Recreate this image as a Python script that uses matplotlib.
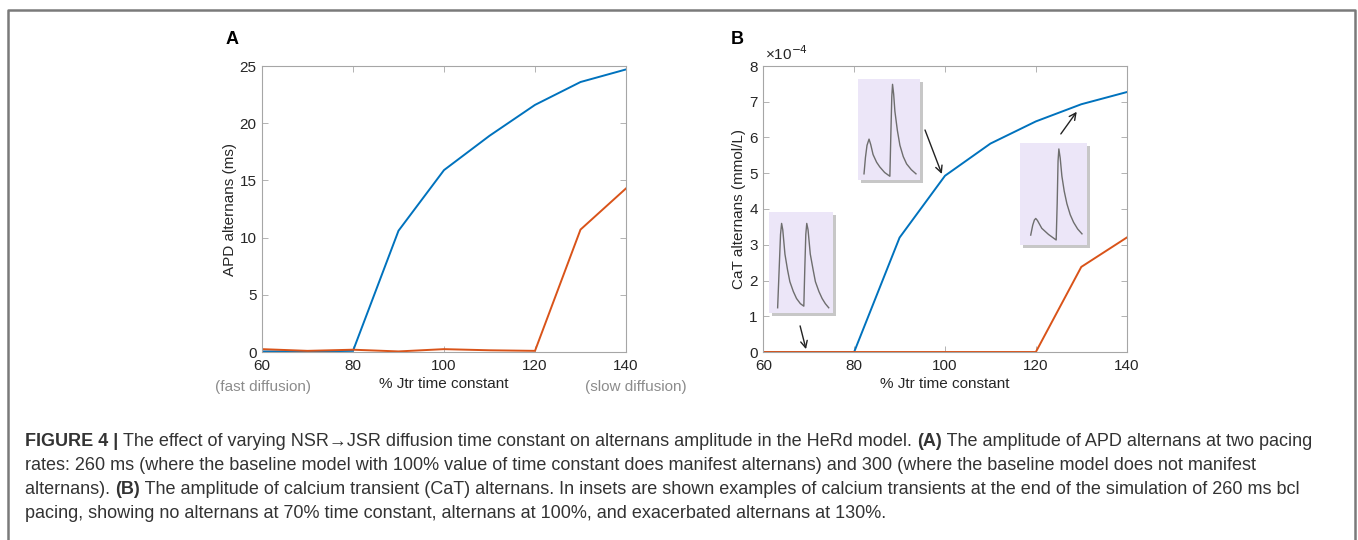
import matplotlib
matplotlib.use("Agg")
import matplotlib.pyplot as plt
from matplotlib.ticker import FuncFormatter
from matplotlib.patches import Rectangle
from matplotlib.lines import Line2D

# data
jtr = [60, 70, 80, 90, 100, 110, 120, 130, 140]
apd_260 = [0.05, 0.05, 0.1, 10.6, 15.9, 18.9, 21.6, 23.6, 24.7]
apd_300 = [0.25, 0.1, 0.2, 0.05, 0.25, 0.15, 0.1, 10.7, 14.3]
cat_260 = [0, 0, 0, 3.2e-4, 4.93e-4, 5.83e-4, 6.45e-4, 6.93e-4, 7.27e-4]
cat_300 = [0, 0, 0, 0, 0, 0, 0, 2.38e-4, 3.2e-4]

# inset traces (normalised inset coords)
trace_70_x = [0.135, 0.16, 0.18, 0.197, 0.215, 0.249, 0.29, 0.326, 0.38, 0.43, 0.49, 0.544,
              0.56, 0.575, 0.59, 0.61, 0.645, 0.69, 0.725, 0.78, 0.83, 0.88, 0.933]
trace_70_y = [0.016, 0.45, 0.8, 0.918, 0.85, 0.59, 0.42, 0.295, 0.19, 0.115, 0.06, 0.033,
              0.45, 0.8, 0.918, 0.85, 0.59, 0.42, 0.295, 0.19, 0.115, 0.06, 0.016]
trace_100_x = [0.097, 0.12, 0.145, 0.178, 0.205, 0.243, 0.3, 0.351, 0.43, 0.514,
               0.53, 0.545, 0.557, 0.575, 0.595, 0.635, 0.676, 0.73, 0.784, 0.86, 0.935]
trace_100_y = [0.026, 0.2, 0.33, 0.397, 0.34, 0.232, 0.15, 0.10, 0.04, 0.0,
               0.45, 0.85, 0.983, 0.88, 0.695, 0.49, 0.331, 0.21, 0.132, 0.07, 0.026]
trace_130_x = [0.16, 0.19, 0.215, 0.235, 0.26, 0.325, 0.425, 0.54,
               0.555, 0.568, 0.58, 0.6, 0.625, 0.66, 0.70, 0.75, 0.80, 0.86, 0.925]
trace_130_y = [0.065, 0.17, 0.225, 0.241, 0.22, 0.137, 0.072, 0.013,
               0.4, 0.85, 0.977, 0.88, 0.69, 0.53, 0.397, 0.28, 0.20, 0.13, 0.078]

blue = "#0072BD"
orange = "#D95319"
tick_col = "#262626"
frame_col = "#a6a6a6"

plt.rcParams['font.family'] = ['Liberation Sans', 'DejaVu Sans']

fig = plt.figure(figsize=(13.58, 5.4), dpi=100)

def style(ax):
    for s in ax.spines.values():
        s.set_color(frame_col)
        s.set_linewidth(0.8)
    ax.tick_params(direction='in', top=True, right=True, length=4, width=0.6,
                   color=frame_col, labelcolor=tick_col, labelsize=11)
    ax.tick_params(axis='x', pad=5)
    ax.tick_params(axis='y', pad=4)
    ax.set_xlim(60, 140)
    ax.set_xticks([60, 80, 100, 120, 140])

# panel A
axA = fig.add_axes([262/1358, 1-352/540, 364/1358, 286/540])
axA.plot(jtr, apd_260, color=blue, lw=1.4)
axA.plot(jtr, apd_300, color=orange, lw=1.4)
style(axA)
axA.set_ylim(0, 25)
axA.set_yticks([0, 5, 10, 15, 20, 25])
axA.set_xlabel("% Jtr time constant", fontsize=11, color=tick_col, labelpad=3)
axA.set_ylabel("APD alternans (ms)", fontsize=11, color=tick_col, labelpad=2)
fig.text(263/1358, 1-387/540, "(fast diffusion)", fontsize=11, color="#8c8c8c", ha='center', va='center')
fig.text(636/1358, 1-387/540, "(slow diffusion)", fontsize=11, color="#8c8c8c", ha='center', va='center')
fig.text(232/1358, 1-39/540, "A", fontsize=13, fontweight='bold', ha='center', va='center')

# panel B
axB = fig.add_axes([763.3/1358, 1-352/540, 363.4/1358, 286/540])
axB.plot(jtr, cat_260, color=blue, lw=1.4)
axB.plot(jtr, cat_300, color=orange, lw=1.4)
style(axB)
axB.set_ylim(0, 8e-4)
axB.set_yticks([i*1e-4 for i in range(9)])
axB.yaxis.set_major_formatter(FuncFormatter(lambda v, p: "%d" % round(v*1e4)))
axB.set_xlabel("% Jtr time constant", fontsize=11, color=tick_col, labelpad=3)
axB.set_ylabel("CaT alternans (mmol/L)", fontsize=11, color=tick_col, labelpad=2)
axB.text(0.005, 1.012, "\u00d710$^{-4}$", transform=axB.transAxes, fontsize=11,
         color=tick_col, ha='left', va='bottom')
fig.text(737/1358, 1-39/540, "B", fontsize=13, fontweight='bold', ha='center', va='center')

# insets
insets = [
    ((769, 212, 64, 101), trace_70_x, trace_70_y),
    ((858, 79, 62, 101), trace_100_x, trace_100_y),
    ((1020, 143, 67, 102), trace_130_x, trace_130_y),
]
for (x0, y0, w, h), tx, ty in insets:
    sh = Rectangle(((x0+3)/1358, 1-(y0+h+3)/540), w/1358, h/540, transform=fig.transFigure,
                   facecolor="#9a9a9a", edgecolor='none', alpha=0.55, zorder=4)
    fig.patches.append(sh)
    ia = fig.add_axes([x0/1358, 1-(y0+h)/540, w/1358, h/540], zorder=5)
    ia.set_facecolor("#ece6f8")
    ia.plot(tx, ty, color="#6e6e6e", lw=1.0)
    ia.set_xlim(0, 1)
    ia.set_ylim(-0.04, 1.04)
    ia.set_xticks([])
    ia.set_yticks([])
    for s in ia.spines.values():
        s.set_visible(False)

# arrows
arrows = [((68.1, 0.73e-4), (69.4, 0.08e-4)),
          ((95.6, 6.21e-4), (99.3, 4.98e-4)),
          ((125.5, 6.1e-4), (129.0, 6.72e-4))]
for start, end in arrows:
    axB.annotate("", xy=end, xytext=start,
                 arrowprops=dict(arrowstyle='->', color="#222222", lw=1.0,
                                 mutation_scale=12, shrinkA=0, shrinkB=0))

# frame
fig.add_artist(Line2D([8/1358, 8/1358, 1355/1358, 1355/1358],
                      [0, 1-10/540, 1-10/540, 0], transform=fig.transFigure,
                      color="#7a7a7a", lw=1.8))

# caption
cap_font = ['Liberation Sans Narrow', 'Liberation Sans', 'DejaVu Sans']
cap_lines = [
    [("FIGURE 4 | ", 'bold'),
     ("The effect of varying NSR\u2192JSR diffusion time constant on alternans amplitude in the HeRd model. ", 'normal'),
     ("(A)", 'bold'),
     (" The amplitude of APD alternans at two pacing", 'normal')],
    [("rates: 260 ms (where the baseline model with 100% value of time constant does manifest alternans) and 300 (where the baseline model does not manifest", 'normal')],
    [("alternans). ", 'normal'), ("(B)", 'bold'),
     (" The amplitude of calcium transient (CaT) alternans. In insets are shown examples of calcium transients at the end of the simulation of 260 ms bcl", 'normal')],
    [("pacing, showing no alternans at 70% time constant, alternans at 100%, and exacerbated alternans at 130%.", 'normal')],
]
renderer = fig.canvas.get_renderer()
for i, segs in enumerate(cap_lines):
    x = 25
    y = 1 - (446 + 24*i)/540
    for txt, wt in segs:
        t = fig.text(x/1358, y, txt, fontsize=13, fontweight=wt, family=cap_font,
                     color="#333333", ha='left', va='baseline')
        bb = t.get_window_extent(renderer)
        x += bb.width

fig.savefig("out.png", dpi=100)
